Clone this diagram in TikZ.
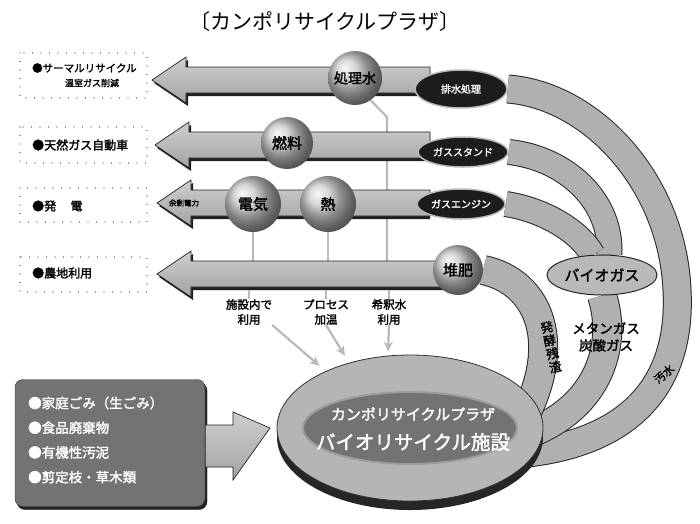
\documentclass[tikz,border=0pt]{standalone}
\usepackage{fontspec}
\setmainfont{Noto Sans CJK JP}[AutoFakeBold=2]
\usetikzlibrary{arrows.meta,shapes.geometric}
\pgfdeclarelayer{back}
\pgfdeclarelayer{mid}
\pgfsetlayers{back,mid,main}
\newcommand\fs[1]{\fontsize{#1}{#1}\selectfont}
\newcommand\KArrow[4]{\path[#4] (#1,#2) -- (#1+34,#2-23) -- (#1+34,#2-13) -- (#3,#2-13) -- (#3,#2+13) -- (#1+34,#2+13) -- (#1+34,#2+23) -- cycle;}
\begin{document}
\begin{tikzpicture}[x=1pt,y=-1pt,
  every node/.style={inner sep=0pt},
  band/.style={draw=gray!30!black, line width=1pt, double=gray!62, double distance=#1},
  band/.default=26pt,
  arrbody/.style={top color=gray!38, bottom color=gray!72, draw=gray!25!black, line width=.7pt},
  arrshadow/.style={fill=gray!25!black},
  sphere/.style={circle, ball color=gray!42, minimum size=#1, font=\bfseries\fs{14}},
  sphere/.default=54pt,
  proc/.style={ellipse, fill=gray!22!black, draw=gray!55, line width=1.5pt, text=white, font=\bfseries\fs{10}},
  dotbox/.style={draw=gray!35!black, line width=1.4pt, dash pattern=on 0pt off 8.5pt, line cap=round},
  lbl/.style={anchor=west, font=\bfseries\fs{12}},
  conn/.style={draw=gray!55, line width=2.2pt},
  connarr/.style={conn, -{Stealth[length=10pt,width=9pt]}},
  ulbl/.style={align=center, font=\bfseries\fontsize{11.5}{15}\selectfont},
]
\useasboundingbox (0,0) rectangle (700,523);

% title
\node[font=\fs{21}] (title) at (325,22) {〔カンポリサイクルプラザ〕};

% left dotted boxes and labels
\draw[dotbox] (20,53) rectangle (147,98);
\draw[dotbox] (20,127) rectangle (147,163);
\draw[dotbox] (20,188) rectangle (147,222);
\draw[dotbox] (20,257) rectangle (147,292);
\node[lbl, font=\bfseries\fs{10.5}] (l1a) at (32,68) {●サーマルリサイクル};
\node[font=\bfseries\fs{9}] (l1b) at (92,83) {温室ガス削減};
\node[lbl] (l2) at (32,145) {●天然ガス自動車};
\node[lbl] (l3) at (32,206) {●発\hspace{1.2em}電};
\node[lbl] (l4) at (32,273) {●農地利用};

% process ellipses
\node[proc, minimum width=92pt, minimum height=38pt] (haisui) at (461,89) {排水処理};
\node[proc, minimum width=90pt, minimum height=30pt] (gasst) at (463,152) {ガススタンド};
\node[proc, minimum width=88pt, minimum height=30pt] (gaseng) at (461,204) {ガスエンジン};

% spheres
\node[sphere=54pt] (shori) at (355,78) {処理水};
\node[sphere=52pt, font=\bfseries\fs{15}] (nenryo) at (287,143) {燃料};
\node[sphere=56pt, font=\bfseries\fs{15}] (denki) at (253,204) {電気};
\node[sphere=56pt, font=\bfseries\fs{15}] (netsu) at (328,204) {熱};
\node[sphere=50pt, font=\bfseries\fs{15}] (taihi) at (458,270) {堆肥};

% biogas ellipse
\node[ellipse, fill=gray!55, draw=gray!30!black, line width=1pt, minimum width=110pt, minimum height=40pt, font=\bfseries\fs{15}] (biogas) at (602,275) {バイオガス};

% big facility ellipse
\node[ellipse, fill=gray!30!black, minimum width=266pt, minimum height=146pt] (plazash) at (410,437) {};
\node[ellipse, fill=gray!58, draw=gray!40!black, line width=.8pt, minimum width=266pt, minimum height=146pt] (plaza) at (410,428) {};
\node[ellipse, fill=black!55, draw=gray!78, line width=2pt, minimum width=214pt, minimum height=72pt] (plazain) at (410,428) {};
\node[text=white, font=\bfseries\fs{15}] (pt1) at (413,414) {カンポリサイクルプラザ};
\node[text=white, font=\bfseries\fs{19.5}] (pt2) at (413,442) {バイオリサイクル施設};

% hidden ends of the bands, inside the facility ellipse
\coordinate (pin1) at (505,455);
\coordinate (pin2) at (510,440);
\coordinate (pin3) at (520,425);

% bands and connectors behind
\begin{pgfonlayer}{back}
\draw[band=27pt] (haisui.east) .. controls (590,95) and (672,180) .. (677,290) .. controls (682,385) and (630,448) .. (pin1);
\draw[band=24pt] (gasst.east) .. controls (565,158) and (612,200) .. (biogas.70);
\draw[band=24pt] (gaseng.east) .. controls (545,210) and (580,232) .. (biogas.115);
\draw[band=28pt] (biogas.south) .. controls (618,345) and (600,415) .. (pin2);
\draw[band=28pt] (taihi.east) .. controls (540,282) and (565,345) .. (pin3);
\coordinate (r4top) at (0,262);
\draw[conn] (denki.south) -- (denki.south |- r4top);
\draw[conn] (netsu.south) -- (netsu.south |- r4top);
\draw[conn] (shori.-55) -- (387,117) -- (387,262);
\end{pgfonlayer}

% big arrows
\begin{pgfonlayer}{mid}
\KArrow{154}{83}{430}{arrshadow}
\KArrow{152}{80}{430}{arrbody}
\KArrow{157}{148}{430}{arrshadow}
\KArrow{155}{145}{430}{arrbody}
\KArrow{159}{206}{430}{arrshadow}
\KArrow{157}{203}{430}{arrbody}
\KArrow{159}{277}{460}{arrshadow}
\KArrow{157}{274}{460}{arrbody}
\end{pgfonlayer}
\node[font=\bfseries\fs{7.5}] (yojo) at (184,203) {余剰電力};

% labels on bands
\node[align=center, font=\bfseries\fontsize{13.5}{17}\selectfont] (methane) at (606,337) {メタンガス\\炭酸ガス};
\node[align=center, rotate=12, font=\bfseries\fontsize{12.5}{13.5}\selectfont] (zansa) at (551,347) {発\\酵\\残\\渣};
\node[rotate=40, font=\bfseries\fs{11}] (osui) at (664,374) {汚水};

% labels under the bottom arrow
\node[ulbl] (u1) at (249,312) {施設内で\\利用};
\node[ulbl] (u2) at (326,312) {プロセス\\加温};
\node[ulbl] (u3) at (389,312) {希釈水\\利用};
\draw[conn] (u1.north |- 0,290) -- (u1.north);
\draw[conn] (u2.north |- 0,290) -- (u2.north);
\draw[conn] (u3.north |- 0,290) -- (u3.north);
\draw[connarr, shorten >=8pt] (u1.south east) -- (plaza.146);
\draw[connarr, shorten >=8pt] (u2.south) -- (plaza.133);
\draw[connarr, shorten >=4pt] (u3.south) -- (plaza.107);

% input box and arrow
\node[draw=gray!25!black, fill=gray!25!black, rounded corners=8pt, minimum width=190pt, minimum height=127pt] (srcsh) at (112,446) {};
\node[draw=gray!40!black, fill=black!55, rounded corners=8pt, minimum width=190pt, minimum height=127pt] (src) at (110,443) {};
\node[anchor=west, align=left, text=white, font=\bfseries\fontsize{13.5}{24.7}\selectfont] (srctxt) at (28,440) {●家庭ごみ（生ごみ）\\●食品廃棄物\\●有機性汚泥\\●剪定枝・草木類};
\path[arrbody] (src.east |- 0,425) -- (233,425) -- (233,412) -- (plaza.west -| 270,446) -- (233,480) -- (233,467) -- (src.east |- 0,467) -- cycle;
\end{tikzpicture}
\end{document}
